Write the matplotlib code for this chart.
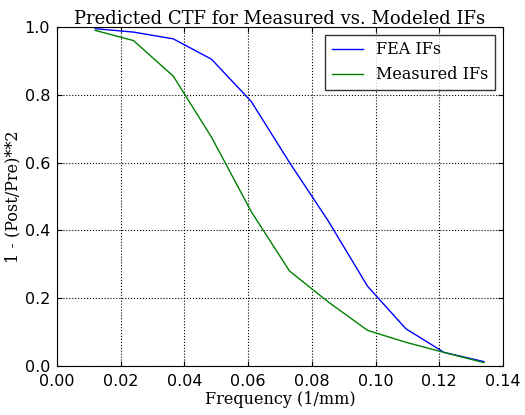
import matplotlib
matplotlib.use("Agg")
import matplotlib.pyplot as plt

freq = [0.012, 0.024, 0.0365, 0.0485, 0.061, 0.073, 0.085, 0.0975, 0.1095, 0.1215, 0.134]
fea = [0.995, 0.985, 0.965, 0.905, 0.78, 0.60, 0.43, 0.235, 0.11, 0.04, 0.013]
meas = [0.99, 0.96, 0.855, 0.675, 0.455, 0.28, 0.19, 0.105, 0.07, 0.04, 0.01]

fig = plt.figure(figsize=(5.25, 4.15), dpi=100)
ax = fig.add_axes([57/525, 1-366/415, (503-57)/525, (366-27)/415])
ax.plot(freq, fea, color='blue', lw=1, label='FEA IFs')
ax.plot(freq, meas, color='green', lw=1, label='Measured IFs')
ax.set_xlim(0, 0.14)
ax.set_ylim(0, 1.0)
ax.set_xticks([0, 0.02, 0.04, 0.06, 0.08, 0.10, 0.12, 0.14])
ax.set_xticklabels(['0.00', '0.02', '0.04', '0.06', '0.08', '0.10', '0.12', '0.14'])
ax.set_yticks([0, 0.2, 0.4, 0.6, 0.8, 1.0])
ax.set_yticklabels(['0.0', '0.2', '0.4', '0.6', '0.8', '1.0'])
ax.grid(True, linestyle=':', color='black', lw=0.8)
ax.tick_params(direction='in', top=True, right=True, labelsize=11.5)
ax.tick_params(axis='x', pad=6)
ax.tick_params(axis='y', pad=5)
ax.set_title('Predicted CTF for Measured vs. Modeled IFs', family='DejaVu Serif', fontsize=13, pad=2)
ax.set_xlabel('Frequency (1/mm)', family='DejaVu Serif', fontsize=11.5, labelpad=1)
ax.set_ylabel('1 - (Post/Pre)**2', family='DejaVu Serif', fontsize=11.5, labelpad=2)
leg = ax.legend(loc='upper right', prop={'family': 'DejaVu Serif', 'size': 11.5}, fancybox=False, edgecolor='black')
fig.savefig('out.png', dpi=100)
